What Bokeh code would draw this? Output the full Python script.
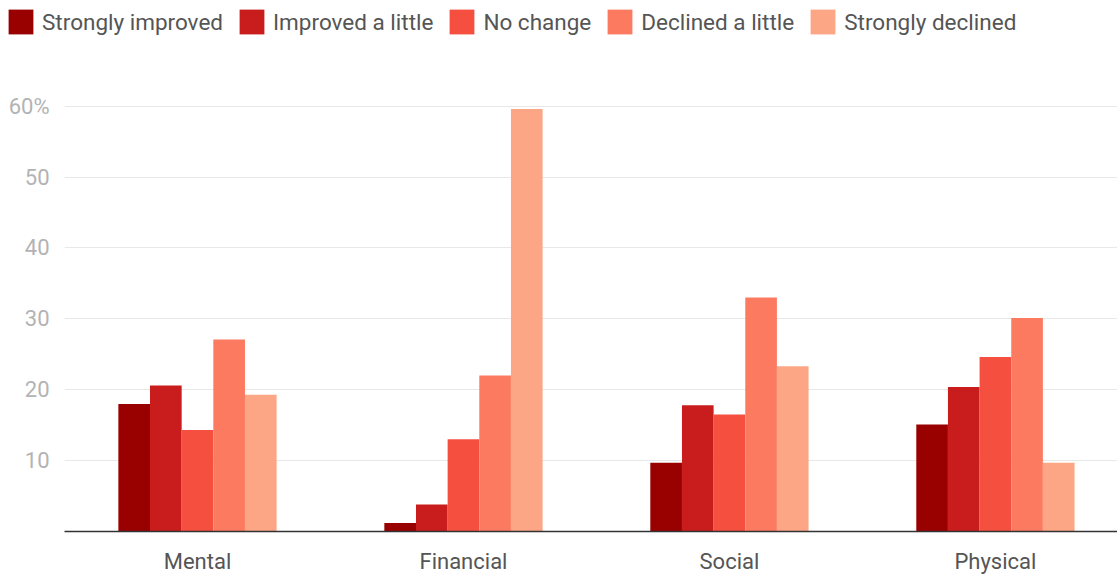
from bokeh.plotting import figure
from bokeh.models import ColumnDataSource, Range1d, FixedTicker, Legend, LegendItem
from bokeh.layouts import column
from bokeh.embed import file_html
from bokeh.resources import INLINE

categories = ["Mental", "Financial", "Social", "Physical"]
series = ["Strongly improved", "Improved a little", "No change", "Declined a little", "Strongly declined"]
strongly_improved = [18.0, 1.2, 9.7, 15.1]
improved_little = [20.6, 3.8, 17.8, 20.4]
no_change = [14.3, 13.0, 16.5, 24.6]
declined_little = [27.1, 22.0, 33.0, 30.1]
strongly_declined = [19.3, 59.6, 23.3, 9.7]
values = [strongly_improved, improved_little, no_change, declined_little, strongly_declined]
colors = ["#990000", "#c91c1c", "#f5503f", "#fc7b60", "#fca686"]
y_ticks = [10, 20, 30, 40, 50, 60]
y_labels = {10: "10", 20: "20", 30: "30", 40: "40", 50: "50", 60: "60%"}

FONT = "Roboto"
bar_w = 0.119

# ---- legend strip ----
leg = figure(width=1117, height=40, output_backend="svg", toolbar_location=None,
             x_axis_type=None, y_axis_type=None,
             x_range=Range1d(0, 1), y_range=Range1d(0, 1),
             min_border_left=0, min_border_right=0, min_border_top=0, min_border_bottom=0)
leg.outline_line_color = None
leg.xgrid.visible = False
leg.ygrid.visible = False
leg.frame_align = False

# ---- main chart ----
p = figure(width=1117, height=536, output_backend="svg", toolbar_location=None,
           x_range=Range1d(-0.5, 3.459), y_range=Range1d(0, 61.5),
           min_border_left=64, min_border_right=0, min_border_top=55, min_border_bottom=0)
p.outline_line_color = None
p.frame_align = False

items = []
for j, (name, vals, col) in enumerate(zip(series, values, colors)):
    xs = [i + (j - 2) * bar_w for i in range(len(categories))]
    src = ColumnDataSource(dict(x=xs, top=vals))
    p.vbar(x="x", top="top", bottom=0, width=bar_w, source=src,
           fill_color=col, line_color=None)
    # legend swatch renderer (its data lies outside the strip's visible range)
    lr = leg.vbar(x=[5], top=[1], bottom=0, width=0.1, fill_color=col, line_color=None)
    items.append(LegendItem(label=name, renderers=[lr]))

# axes
p.xaxis.ticker = FixedTicker(ticks=list(range(len(categories))))
p.xaxis.major_label_overrides = {i: c for i, c in enumerate(categories)}
p.xaxis.major_tick_line_color = None
p.xaxis.minor_tick_line_color = None
p.xaxis.axis_line_color = "#333333"
p.xaxis.axis_line_width = 1.5
p.xaxis.major_label_text_font = FONT
p.xaxis.major_label_text_font_size = "22px"
p.xaxis.major_label_text_color = "#555555"
p.xaxis.major_label_standoff = 11

p.yaxis.ticker = FixedTicker(ticks=y_ticks)
p.yaxis.major_label_overrides = y_labels
p.yaxis.major_tick_line_color = None
p.yaxis.minor_tick_line_color = None
p.yaxis.axis_line_color = None
p.yaxis.major_label_text_font = FONT
p.yaxis.major_label_text_font_size = "22px"
p.yaxis.major_label_text_color = "#b3b3b3"
p.yaxis.major_label_standoff = 9

p.xgrid.grid_line_color = None
p.ygrid.grid_line_color = "#e8e8e8"
p.ygrid.ticker = FixedTicker(ticks=y_ticks)

legend = Legend(items=items, orientation="horizontal", location=(5, 3),
                glyph_width=31, glyph_height=31, label_standoff=6, spacing=13,
                padding=0, margin=0, border_line_color=None, background_fill_alpha=0,
                label_text_font=FONT, label_text_font_size="22.5px",
                label_text_color="#555555", label_height=31)
leg.add_layout(legend, "center")

layout = column(leg, p, spacing=0)
open("out.html", "w").write(file_html(layout, INLINE))
